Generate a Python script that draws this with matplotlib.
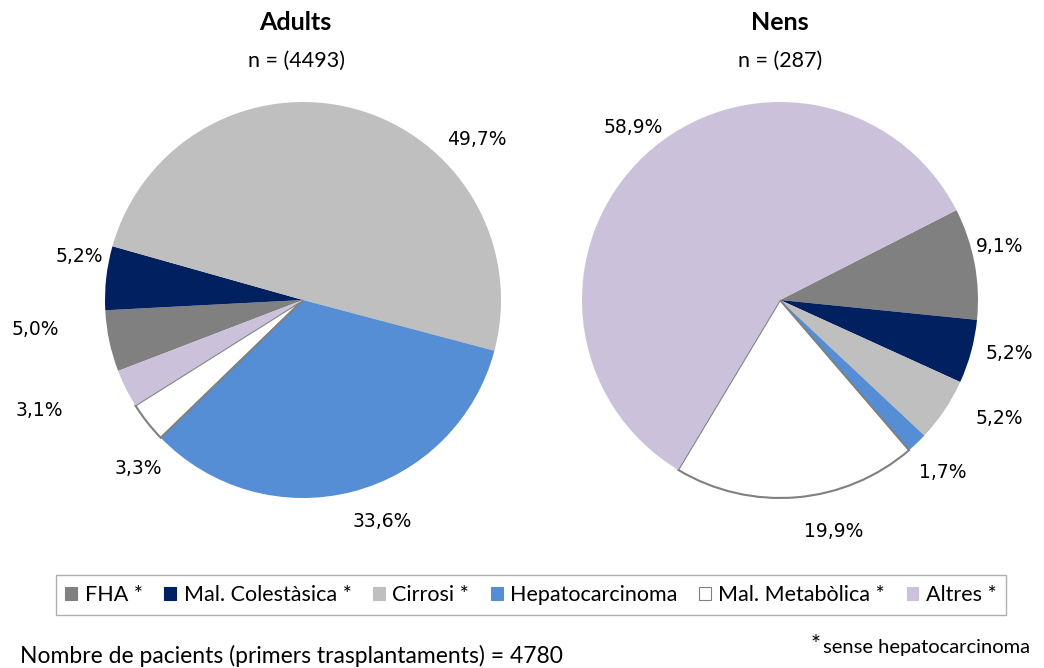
import matplotlib
matplotlib.use("Agg")
import matplotlib.pyplot as plt
from matplotlib.patches import Patch

plt.rcParams['font.family'] = ['Lato', 'DejaVu Sans']

categories = ['FHA *', 'Mal. Colestàsica *', 'Cirrosi *', 'Hepatocarcinoma',
              'Mal. Metabòlica *', 'Altres *']
adults = [5.0, 5.2, 49.7, 33.6, 3.3, 3.1]
nens = [9.1, 5.2, 5.2, 1.7, 19.9, 58.9]
n_adults = 4493
n_nens = 287
total = 4780

colors = ['#808080', '#002060', '#bfbfbf', '#558ed5', '#ffffff', '#ccc1da']

# label positions in pie-radius units (layout only)
pos_adults = [(-1.35, -0.15), (-1.13, 0.22), (0.88, 0.81), (0.40, -1.12),
              (-0.83, -0.85), (-1.33, -0.56)]
pos_nens = [(1.11, 0.27), (1.16, -0.27), (1.11, -0.60), (0.82, -0.87),
            (0.27, -1.17), (-0.74, 0.87)]

def draw_pie(ax, vals, start, positions):
    wedges, _ = ax.pie(vals, colors=colors, startangle=start, counterclock=False,
                       radius=1, wedgeprops=dict(linewidth=0))
    # only the white slice gets an outline
    wedges[4].set_edgecolor('#808080')
    wedges[4].set_linewidth(1.5)
    for v, (x, y) in zip(vals, positions):
        ax.text(x, y, ('%.1f%%' % v).replace('.', ','), ha='center', va='center',
                fontsize=13.5, family='DejaVu Sans')
    ax.set_xlim(-1, 1)
    ax.set_ylim(-1, 1)
    ax.set_aspect('equal')
    ax.axis('off')

fig = plt.figure(figsize=(10.44, 6.68), dpi=100)
W, H = 1044, 668
r = 198
ax1 = fig.add_axes([(303 - r) / W, (H - 300 - r) / H, 2 * r / W, 2 * r / H])
ax2 = fig.add_axes([(780 - r) / W, (H - 300 - r) / H, 2 * r / W, 2 * r / H])
draw_pie(ax1, adults, -159, pos_adults)
draw_pie(ax2, nens, 27, pos_nens)

fig.text(295 / W, 1 - 23 / H, 'Adults', ha='center', va='center', fontsize=18, fontweight='bold')
fig.text(297 / W, 1 - 61 / H, 'n = (%d)' % n_adults, ha='center', va='center', fontsize=15.5)
fig.text(780 / W, 1 - 23 / H, 'Nens', ha='center', va='center', fontsize=18, fontweight='bold')
fig.text(780 / W, 1 - 61 / H, 'n = (%d)' % n_nens, ha='center', va='center', fontsize=15.5)

handles = [Patch(facecolor=c, edgecolor='#808080' if c == '#ffffff' else c, linewidth=0.8)
           for c in colors]
leg = fig.legend(handles, categories, loc='center', bbox_to_anchor=(531 / W, 1 - 595 / H),
                 ncol=6, fontsize=15.5, frameon=True, fancybox=False, handlelength=0.55,
                 handleheight=0.55, handletextpad=0.35, columnspacing=1.0,
                 borderpad=0.45)
leg.get_frame().set_edgecolor('#9a9a9a')
leg.get_frame().set_linewidth(1.0)

fig.text(20 / W, 1 - 656 / H, 'Nombre de pacients (primers trasplantaments) = %d' % total,
         ha='left', va='center', fontsize=16.5)
fig.text(1030 / W, 1 - 648 / H, 'sense hepatocarcinoma', ha='right', va='center', fontsize=14.5)
fig.text(821 / W, 1 - 645 / H, '*', ha='right', va='center', fontsize=17)

fig.savefig('out.png', dpi=100, facecolor='white')
